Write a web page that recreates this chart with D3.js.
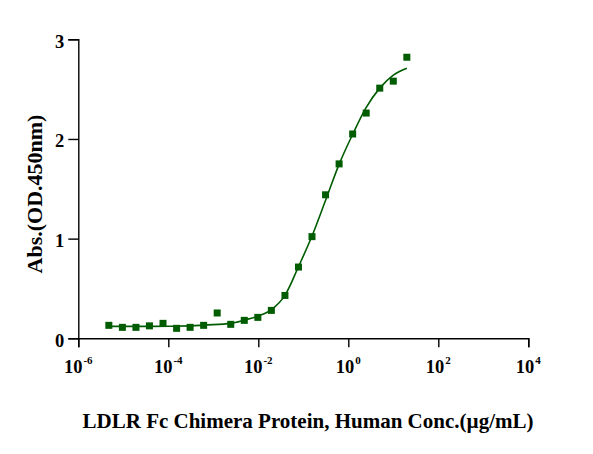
<!DOCTYPE html>
<html><head><meta charset="utf-8">
<script src="https://cdn.jsdelivr.net/npm/d3@7"></script>
<style>
html,body{margin:0;padding:0;background:#fff;}
svg{display:block;}
text{font-family:"Liberation Serif","Times New Roman",serif;font-weight:bold;fill:#000;}
</style></head>
<body>
<div id="chart"></div>
<script>
// Data (concentration in µg/mL, 2-fold serial dilution from 20)
const concentrations = [4.77e-6,9.54e-6,1.91e-5,3.81e-5,7.63e-5,1.53e-4,3.05e-4,6.10e-4,1.22e-3,2.44e-3,4.88e-3,9.77e-3,1.95e-2,3.91e-2,7.81e-2,0.156,0.3125,0.625,1.25,2.5,5,10,20];
const absorbance = [0.13,0.11,0.11,0.125,0.15,0.10,0.11,0.13,0.254,0.14,0.18,0.21,0.28,0.43,0.715,1.02,1.44,1.75,2.05,2.26,2.51,2.58,2.82];
// Fitted curve
const curveConc = [4.77e-6,4e-5,3.2e-4,6.3e-4,2.5e-3,5e-3,1e-2,2e-2,3.9e-2,7.8e-2,0.156,0.316,0.63,1.26,2.45,5,10,20];
const curveAbs  = [0.12,0.12,0.125,0.133,0.15,0.184,0.224,0.29,0.43,0.718,1.026,1.39,1.75,2.05,2.31,2.51,2.64,2.71];
const xTickValues = [1e-6,1e-4,1e-2,1,1e2,1e4];
const xTickExponents = ["-6","-4","-2","0","2","4"];
const yTickValues = [0,1,2,3];
const xTitle = "LDLR Fc Chimera Protein, Human Conc.(µg/mL)";
const yTitle = "Abs.(OD.450nm)";

const W = 593, H = 454;
const svg = d3.select("#chart").append("svg").attr("width", W).attr("height", H);
const x = d3.scaleLog().domain([1e-6, 1e4]).range([78.3, 528.3]);
const y = d3.scaleLinear().domain([0, 3]).range([338.3, 39.3]);
const green = "#005c00";

// X axis
const xAxis = svg.append("g").attr("transform", `translate(0,${y(0)})`)
  .call(d3.axisBottom(x).tickValues(xTickValues).tickSize(9).tickFormat(""));
xAxis.select(".domain").attr("stroke", "#000").attr("stroke-width", 1.4);
xAxis.selectAll(".tick line").attr("stroke", "#000").attr("stroke-width", 1.4);
xTickValues.forEach((v, i) => {
  const t = svg.append("text").attr("x", x(v)).attr("y", 372.7)
    .attr("text-anchor", "middle").style("font-size", "18.5px");
  t.append("tspan").text("10");
  t.append("tspan").attr("dy", -9).attr("dx", 1).style("font-size", "11px").text(xTickExponents[i]);
});

// Y axis
const yAxis = svg.append("g").attr("transform", `translate(${x(1e-6)},0)`)
  .call(d3.axisLeft(y).tickValues(yTickValues).tickSize(10).tickFormat(d3.format("d")).tickPadding(4));
yAxis.select(".domain").attr("stroke", "#000").attr("stroke-width", 1.4);
yAxis.selectAll(".tick line").attr("stroke", "#000").attr("stroke-width", 1.4);
yAxis.selectAll(".tick text").style("font-size", "18.5px").attr("dy", "0.42em")
  .style("font-family", '"Liberation Serif","Times New Roman",serif').style("font-weight", "bold").attr("fill", "#000");

// Curve
const line = d3.line().x((d, i) => x(curveConc[i])).y((d, i) => y(curveAbs[i])).curve(d3.curveMonotoneX);
svg.append("path").datum(curveAbs).attr("d", line)
  .attr("fill", "none").attr("stroke", green).attr("stroke-width", 1.6);

// Points
const s = 7;
svg.selectAll("rect.pt").data(absorbance).enter().append("rect").attr("class", "pt")
  .attr("x", (d, i) => x(concentrations[i]) - s / 2)
  .attr("y", d => y(d) - s / 2)
  .attr("width", s).attr("height", s).attr("fill", green);

// Titles
svg.append("text").attr("x", 308).attr("y", 428).attr("text-anchor", "middle")
  .style("font-size", "21px").text(xTitle);
svg.append("text").attr("transform", "translate(42,194) rotate(-90)").attr("text-anchor", "middle")
  .style("font-size", "22px").text(yTitle);
</script>
</body></html>
